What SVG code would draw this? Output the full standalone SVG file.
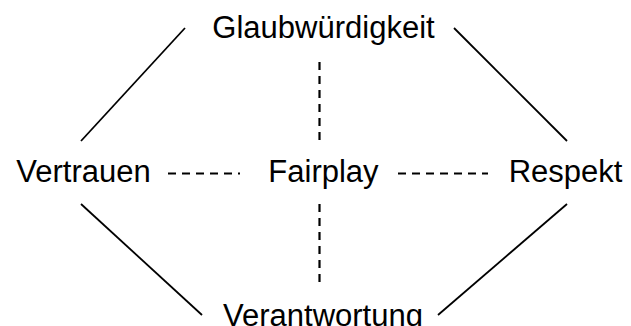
<svg xmlns="http://www.w3.org/2000/svg" width="631" height="326" viewBox="0 0 631 326">
<style>
text{font-family:"Liberation Sans",Arial,sans-serif;font-size:31px;fill:#000;text-anchor:middle}
.s{stroke:#000;stroke-width:1.8;fill:none}
.d{stroke:#000;stroke-width:2.2;fill:none;stroke-dasharray:8 6}
</style>
<rect width="631" height="326" fill="#fff"/>
<g id="connectors">
<line class="s" x1="185" y1="28" x2="81" y2="141"/>
<line class="s" x1="454" y1="28" x2="567" y2="141"/>
<line class="s" x1="81" y1="204" x2="202" y2="315"/>
<line class="s" x1="567" y1="204" x2="438" y2="315"/>
<line class="d" x1="319.5" y1="62" x2="319.5" y2="141"/>
<line class="d" x1="319.5" y1="204" x2="319.5" y2="283"/>
<line class="d" x1="168" y1="173.5" x2="240" y2="173.5"/>
<line class="d" x1="398" y1="173.5" x2="488" y2="173.5"/>
</g>
<g id="glaubwuerdigkeit"><text x="323.5" y="38">Glaubwürdigkeit</text></g>
<g id="vertrauen"><text x="83.5" y="182">Vertrauen</text></g>
<g id="fairplay"><text x="323.5" y="182">Fairplay</text></g>
<g id="respekt"><text x="565.5" y="182">Respekt</text></g>
<g id="verantwortung"><text x="323" y="326">Verantwortung</text></g>
</svg>
